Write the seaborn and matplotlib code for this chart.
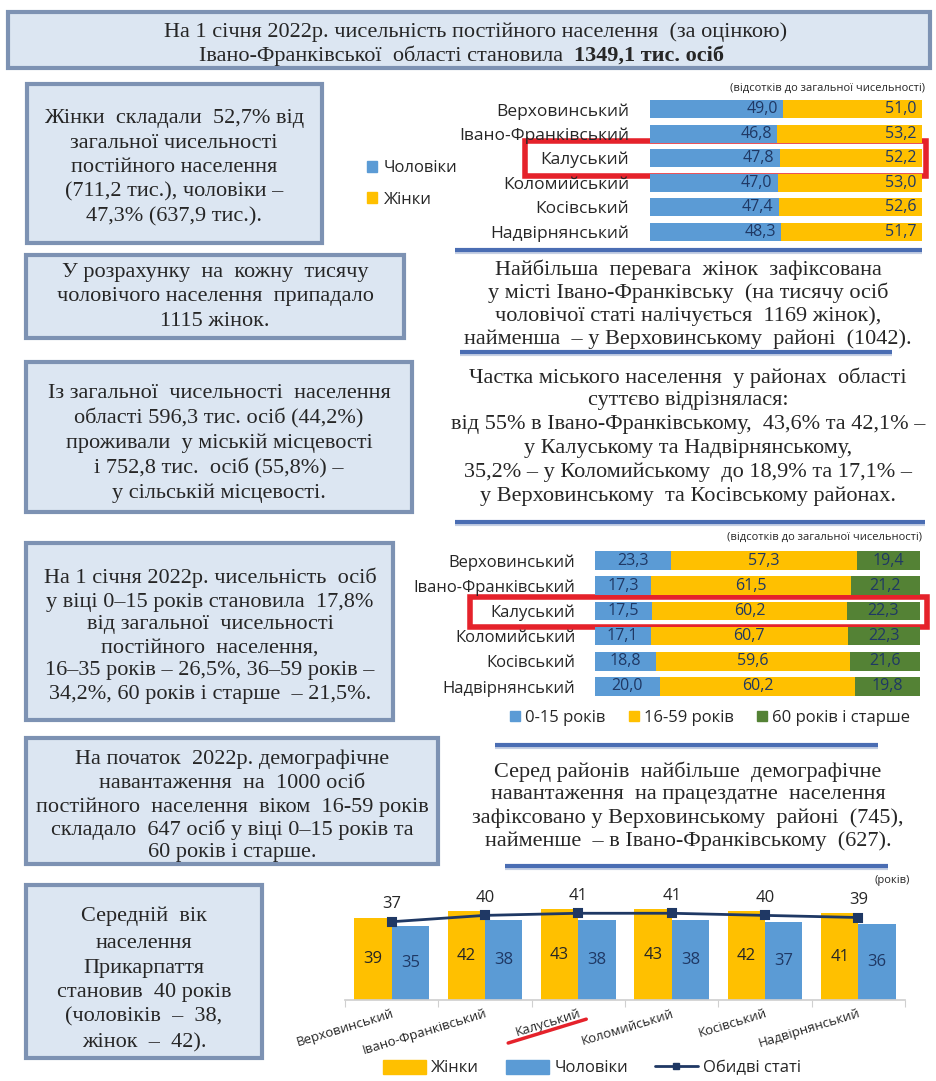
import matplotlib
matplotlib.use('Agg')
import matplotlib.pyplot as plt
import seaborn as sns
import pandas as pd
import numpy as np
from matplotlib.patches import Rectangle, Patch
from matplotlib.lines import Line2D
from matplotlib.transforms import IdentityTransform

# ---------------- data ----------------
districts = ['Верховинський', 'Івано-Франківський', 'Калуський',
             'Коломийський', 'Косівський', 'Надвірнянський']
men_pct = [49.0, 46.8, 47.8, 47.0, 47.4, 48.3]
women_pct = [51.0, 53.2, 52.2, 53.0, 52.6, 51.7]
age_0_15 = [23.3, 17.3, 17.5, 17.1, 18.8, 20.0]
age_16_59 = [57.3, 61.5, 60.2, 60.7, 59.6, 60.2]
age_60_plus = [19.4, 21.2, 22.3, 22.3, 21.6, 19.8]
age_labels = ['0-15 років', '16-59 років', '60 років і старше']
median_women = [39, 42, 43, 43, 42, 41]
median_men = [35, 38, 38, 38, 37, 36]
median_both = [37, 40, 41, 41, 40, 39]

BLUE = '#5b9bd5'
YELLOW = '#ffc000'
GREEN = '#548235'
NAVY = '#1f3864'
BOXFILL = '#dce6f2'
BOXEDGE = '#7d92b3'
SEP = '#4a6db3'
RED = '#e5222b'
TXT = '#262626'

sns.set_theme(style='white')
SANS = ['Open Sans', 'DejaVu Sans']
SERIF = ['Liberation Serif', 'DejaVu Serif']
plt.rcParams['font.family'] = SANS

W, H = 937, 1081
FS = 16
fig = plt.figure(figsize=(W / 100, H / 100), dpi=100)
fig.patch.set_facecolor('white')
bg = fig.add_axes([0, 0, 1, 1])
bg.set_xlim(0, W)
bg.set_ylim(H, 0)
bg.axis('off')


def px_axes(x0, y0, x1, y1):
    return fig.add_axes([x0 / W, 1 - y1 / H, (x1 - x0) / W, (y1 - y0) / H])


def box(x0, y0, x1, y1, lw=3):
    bg.add_patch(Rectangle((x0 + 2, y0 + 2), x1 - x0, y1 - y0, facecolor='#b4bccb',
                           edgecolor='none', zorder=1))
    bg.add_patch(Rectangle((x0, y0), x1 - x0, y1 - y0, facecolor=BOXFILL,
                           edgecolor=BOXEDGE, lw=lw, zorder=2))


def lines(cx, ys, texts, size=FS, **kw):
    for y, t in zip(ys, texts):
        bg.text(cx, y, t, ha='center', va='center', fontsize=size, family=SERIF,
                color=TXT, zorder=3, **kw)


def sep(x0, x1, y):
    bg.plot([x0, x1], [y + 1.5, y + 1.5], color='#c5cfe3', lw=3, zorder=1,
            solid_capstyle='butt')
    bg.plot([x0, x1], [y, y], color=SEP, lw=3, zorder=2, solid_capstyle='butt')


# ---------------- title ----------------
box(8, 12, 930, 68)
bg.text(476, 32, 'На 1 січня 2022р. чисельність постійного населення  (за оцінкою)',
        ha='center', va='center', fontsize=FS, family=SERIF, color=TXT, zorder=3)
bg.text(574, 56, 'Івано-Франківської  області становила  ', ha='right', va='center',
        fontsize=FS, family=SERIF, color=TXT, zorder=3)
bg.text(574, 56, '1349,1 тис. осіб', ha='left', va='center', fontsize=FS,
        family=SERIF, color=TXT, weight='bold', zorder=3)

# ---------------- left boxes ----------------
box(27, 84, 322, 243)
lines(174, [118, 143, 167, 192, 217],
      ['Жінки  складали  52,7% від', 'загальної чисельності', 'постійного населення',
       '(711,2 тис.), чоловіки –', '47,3% (637,9 тис.).'])
box(26, 255, 404, 338)
lines(215, [272, 297, 322],
      ['У розрахунку  на  кожну  тисячу', 'чоловічого населення  припадало',
       '1115 жінок.'])
box(26, 362, 412, 512)
lines(219, [393, 418, 443, 468, 493],
      ['Із загальної  чисельності  населення', 'області 596,3 тис. осіб (44,2%)',
       'проживали  у міській місцевості', 'і 752,8 тис.  осіб (55,8%) –',
       'у сільській місцевості.'])
box(26, 543, 393, 720)
lines(210, [578, 602, 625, 648, 671, 694],
      ['На 1 січня 2022р. чисельність  осіб', 'у віці 0–15 років становила  17,8%',
       'від загальної  чисельності', 'постійного  населення,',
       '16–35 років – 26,5%, 36–59 років –', '34,2%, 60 років і старше  – 21,5%.'])
box(26, 738, 438, 864)
lines(232, [759, 783, 807, 830, 852],
      ['На початок  2022р. демографічне', 'навантаження  на  1000 осіб',
       'постійного  населення  віком  16-59 років', 'складало  647 осіб у віці 0–15 років та',
       '60 років і старше.'])
box(26, 885, 262, 1058)
lines(144, [916, 943, 968, 992, 1017, 1043],
      ['Середній  вік', 'населення', 'Прикарпаття', 'становив  40 років',
       '(чоловіків  –  38,', 'жінок  –  42).'])

# ---------------- right texts & separators ----------------
sep(455, 922, 250)
lines(688, [270, 293, 316, 339],
      ['Найбільша  перевага  жінок  зафіксована',
       'у місті Івано-Франківську  (на тисячу осіб',
       'чоловічої статі налічується  1169 жінок),',
       'найменша  – у Верховинському  районі  (1042).'])
sep(460, 892, 352)
lines(688, [378, 401, 424, 448, 472, 496],
      ['Частка міського населення  у районах  області', 'суттєво відрізнялася:',
       'від 55% в Івано-Франківському,  43,6% та 42,1% –',
       'у Калуському та Надвірнянському,',
       '35,2% – у Коломийському  до 18,9% та 17,1% –',
       'у Верховинському  та Косівському районах.'])
sep(455, 925, 522)
sep(495, 878, 745)
lines(688, [772, 795, 818, 841],
      ['Серед районів  найбільше  демографічне',
       'навантаження  на працездатне  населення',
       'зафіксовано у Верховинському  районі  (745),',
       'найменше  – в Івано-Франківському  (627).'])
sep(505, 888, 866)


def fmt(v):
    return f'{v:.1f}'.replace('.', ',')


# ---------------- chart 1: sex structure ----------------
df1 = pd.DataFrame({'district': districts, 'men': men_pct, 'women': women_pct})
df1['total'] = df1['men'] + df1['women']
ax1 = px_axes(650, 97, 922, 244)
sns.barplot(data=df1, y='district', x='total', color=YELLOW, orient='h', width=0.72,
            errorbar=None, saturation=1, linewidth=0, ax=ax1)
sns.barplot(data=df1, y='district', x='men', color=BLUE, orient='h', width=0.72,
            errorbar=None, saturation=1, linewidth=0, ax=ax1)
ax1.set_xlim(0, 100)
ax1.set_ylim(5.5, -0.5)
ax1.set_xlabel('')
ax1.set_ylabel('')
ax1.set_xticks([])
ax1.tick_params(axis='y', length=0, pad=15, labelsize=12.5, labelcolor=TXT)
sns.despine(ax=ax1, left=True, bottom=True)
ax1.patch.set_alpha(0)
for i in range(len(districts)):
    ax1.text(men_pct[i] - 2, i, fmt(men_pct[i]), ha='right', va='center',
             fontsize=11.5, color=NAVY)
    ax1.text(men_pct[i] + women_pct[i] - 2, i, fmt(women_pct[i]), ha='right',
             va='center', fontsize=11.5, color=NAVY)
fig.text(925 / W, 1 - 88 / H, '(відсотків до загальної чисельності)', ha='right',
         va='center', fontsize=8, color=TXT)
fig.legend(handles=[Patch(color=BLUE), Patch(color=YELLOW)],
           labels=['Чоловіки', 'Жінки'], loc='center left',
           bbox_to_anchor=(352 / W, 1 - 184 / H), frameon=False, fontsize=12,
           handlelength=0.6, handleheight=0.6, handletextpad=0.4,
           labelspacing=0.9, labelcolor=TXT)
bg.add_patch(Rectangle((525, 141), 401, 35, fill=False, edgecolor=RED, lw=4, zorder=10))

# ---------------- chart 2: age structure ----------------
df2 = pd.DataFrame({'district': districts, 'a': age_0_15, 'b': age_16_59, 'c': age_60_plus})
df2['ab'] = df2['a'] + df2['b']
df2['abc'] = df2['ab'] + df2['c']
ax2 = px_axes(595, 548, 920, 699)
for col, c in [('abc', GREEN), ('ab', YELLOW), ('a', BLUE)]:
    sns.barplot(data=df2, y='district', x=col, color=c, orient='h', width=0.74,
                errorbar=None, saturation=1, linewidth=0, ax=ax2)
ax2.set_xlim(0, 100.1)
ax2.set_ylim(5.5, -0.5)
ax2.set_xlabel('')
ax2.set_ylabel('')
ax2.set_xticks([])
ax2.tick_params(axis='y', length=0, pad=14, labelsize=12, labelcolor=TXT)
sns.despine(ax=ax2, left=True, bottom=True)
ax2.patch.set_alpha(0)
for i in range(len(districts)):
    a, b, c = age_0_15[i], age_16_59[i], age_60_plus[i]
    ax2.text(a / 2, i, fmt(a), ha='center', va='center', fontsize=11.5, color=NAVY)
    ax2.text(a + b / 2, i, fmt(b), ha='center', va='center', fontsize=11.5, color=NAVY)
    ax2.text(a + b + c / 2, i, fmt(c), ha='center', va='center', fontsize=11.5, color=NAVY)
fig.text(922 / W, 1 - 537 / H, '(відсотків до загальної чисельності)', ha='right',
         va='center', fontsize=8, color=TXT)
fig.legend(handles=[Patch(color=BLUE), Patch(color=YELLOW), Patch(color=GREEN)],
           labels=age_labels, loc='center', ncol=3,
           bbox_to_anchor=(710 / W, 1 - 718 / H), frameon=False, fontsize=12,
           handlelength=0.6, handleheight=0.6, handletextpad=0.3, columnspacing=1.4,
           labelcolor=TXT)
bg.add_patch(Rectangle((470, 597), 457, 30, fill=False, edgecolor=RED, lw=4, zorder=10))

# ---------------- chart 3: median age ----------------
df3 = pd.DataFrame({'district': districts * 2,
                    'sex': ['Жінки'] * 6 + ['Чоловіки'] * 6,
                    'value': median_women + median_men})
dfb = pd.DataFrame({'district': districts, 'both': median_both})
ax3 = px_axes(345, 890, 905, 1000)
sns.barplot(data=df3, x='district', y='value', hue='sex', palette=[YELLOW, BLUE],
            width=0.8, errorbar=None, saturation=1, linewidth=0, legend=False, ax=ax3)
sns.pointplot(data=dfb, x='district', y='both', color=NAVY, markers='s',
              errorbar=None, markersize=6, linewidth=2, ax=ax3)
ax3.set_ylim(0, 52)
ax3.set_xlim(-0.5, 5.5)
ax3.set_xlabel('')
ax3.set_ylabel('')
ax3.set_yticks([])
ax3.patch.set_alpha(0)
sns.despine(ax=ax3, left=True)
ax3.spines['bottom'].set_color('#d0d0d0')
ax3.set_xticks(np.arange(-0.5, len(districts), 1.0), minor=True)
ax3.tick_params(axis='x', which='major', length=0, pad=5)
ax3.tick_params(axis='x', which='minor', length=5, width=0.8, color='#d0d0d0',
                direction='out', bottom=True)
ROT = 17
for lab in ax3.get_xticklabels():
    lab.set_rotation(ROT)
    lab.set_ha('right')
    lab.set_rotation_mode('anchor')
    lab.set_fontsize(9.5)
    lab.set_color(TXT)
for i in range(len(districts)):
    ax3.text(i - 0.2, median_women[i] / 2, str(median_women[i]), ha='center',
             va='center', fontsize=12, color=TXT)
    ax3.text(i + 0.2, median_men[i] / 2, str(median_men[i]), ha='center',
             va='center', fontsize=12, color=NAVY)
    ax3.annotate(str(median_both[i]), (i, median_both[i]), xytext=(0, 7),
                 textcoords='offset points', ha='center', va='bottom', fontsize=12,
                 color=TXT)
fig.text(910 / W, 1 - 880 / H, '(років)', ha='right', va='center', fontsize=8,
         color=TXT)
fig.legend(handles=[Patch(color=YELLOW), Patch(color=BLUE),
                    Line2D([], [], color=NAVY, lw=2, marker='s', markersize=5)],
           labels=['Жінки', 'Чоловіки', 'Обидві статі'], loc='center', ncol=3,
           bbox_to_anchor=(592 / W, 1 - 1068 / H), frameon=False, fontsize=12,
           handlelength=2.6, handleheight=0.9, handletextpad=0.3, columnspacing=1.6,
           labelcolor=TXT)

# red underline beneath the highlighted tick label (geometry from the rendered label)
fig.canvas.draw()
lab = [l for l in ax3.get_xticklabels() if l.get_text() == 'Калуський'][0]
bb = lab.get_window_extent(renderer=fig.canvas.get_renderer())
th = np.radians(ROT)
c, s = np.cos(th), np.sin(th)
det = c * c - s * s
tw = (bb.width * c - bb.height * s) / det
bl = np.array([bb.x0 + ((bb.height * c - bb.width * s) / det) * s, bb.y0])
br = np.array([bb.x1, bb.y0 + tw * s])
u = np.array([c, s])
nrm = np.array([s, -c])
p0 = bl - 10 * u + 1 * nrm
p1 = br + 4 * u + 1 * nrm
fig.add_artist(Line2D([p0[0], p1[0]], [p0[1], p1[1]], color=RED, lw=2.5,
                      transform=IdentityTransform(), zorder=10))

fig.savefig('out.png', dpi=100, facecolor='white')
